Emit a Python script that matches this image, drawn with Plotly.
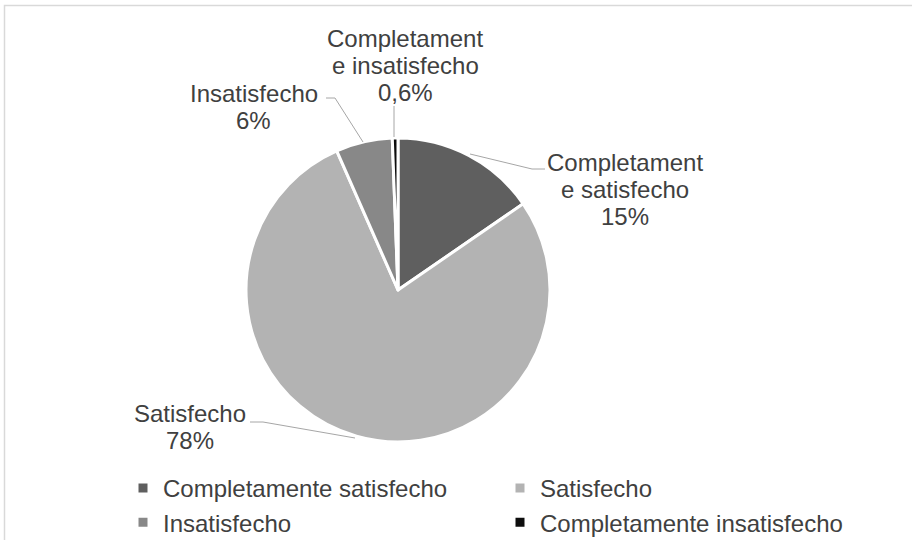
import plotly.graph_objects as go

# ---- data ----
categories = ["Completamente satisfecho", "Satisfecho", "Insatisfecho", "Completamente insatisfecho"]
values = [15.4, 78.0, 6.0, 0.6]
pct_labels = ["15%", "78%", "6%", "0,6%"]
name_lines = [["Completament", "e satisfecho"], ["Satisfecho"], ["Insatisfecho"], ["Completament", "e insatisfecho"]]

# ---- style ----
colors = ["#5f5f5f", "#b3b3b3", "#888888", "#0d0d0d"]
text_color = "#404040"
font_family = "Liberation Sans, Arial, sans-serif"
FS = 24
W, H = 912, 540


def px(x):
    return x / W


def py(y):
    return 1 - y / H


fig = go.Figure(
    go.Pie(
        labels=categories,
        values=values,
        sort=False,
        direction="clockwise",
        rotation=0,
        marker=dict(colors=colors, line=dict(color="white", width=3)),
        textinfo="none",
        hoverinfo="label+percent",
        domain=dict(x=[px(246), px(550)], y=[py(442), py(138)]),
    )
)

# label placement (pixel centre x, first baseline y) and leader lines
label_pos = [(624.5, 171), (190, 422), (254, 102), (405, 47)]
line_gap = 26.7
leaders = [
    [(470, 154), (532, 169), (545, 169)],
    [(355, 438), (263, 422), (250, 422)],
    [(363, 142), (335, 98), (326, 98)],
    [(394, 137), (394, 106)],
]

annotations = []
shapes = []
for i in range(len(categories)):
    lines = name_lines[i] + [pct_labels[i]]
    cx, by = label_pos[i]
    for k, t in enumerate(lines):
        base = by + k * line_gap
        annotations.append(
            dict(
                text=t,
                x=px(cx),
                y=py(base - 8.3),
                xref="paper",
                yref="paper",
                xanchor="center",
                yanchor="middle",
                showarrow=False,
                font=dict(size=FS, color=text_color, family=font_family),
            )
        )
    pts = leaders[i]
    path = "M " + " L ".join(f"{px(x)},{py(y)}" for x, y in pts)
    shapes.append(dict(type="path", path=path, xref="paper", yref="paper",
                       line=dict(color="#a6a6a6", width=1)))

# chart frame
shapes.append(dict(type="rect", xref="paper", yref="paper",
                   x0=px(4.5), x1=1.02, y0=-0.02, y1=py(5.5),
                   line=dict(color="#d9d9d9", width=1.5)))

fig.update_layout(
    width=W,
    height=H,
    margin=dict(l=0, r=0, t=0, b=0, autoexpand=False),
    paper_bgcolor="white",
    plot_bgcolor="white",
    font=dict(family=font_family, size=FS, color=text_color),
    annotations=annotations,
    shapes=shapes,
    showlegend=True,
    legend=dict(
        orientation="h",
        x=px(123),
        xanchor="left",
        y=py(466),
        yanchor="top",
        entrywidth=332,
        traceorder="normal",
        font=dict(size=FS, color=text_color, family=font_family),
        bgcolor="rgba(0,0,0,0)",
        itemclick=False,
        itemdoubleclick=False,
    ),
)

fig.write_html(
    "out.html",
    config={"displayModeBar": False},
    post_script="document.body.style.margin='0';document.body.style.overflow='hidden';",
)
